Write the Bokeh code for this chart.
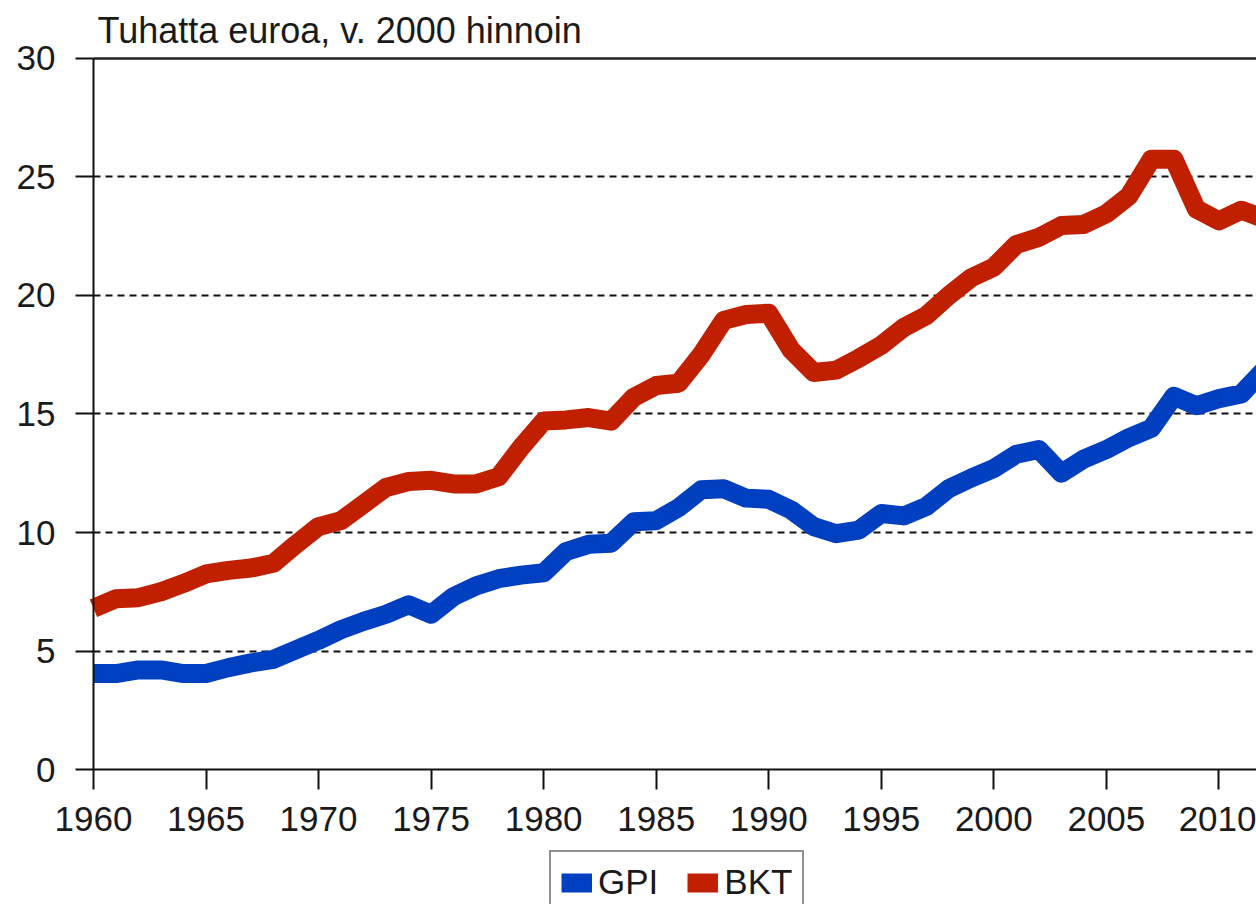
from bokeh.plotting import figure
from bokeh.models import (Range1d, FixedTicker, Legend, LegendItem, BoxAnnotation,
                          Grid, Label)
from bokeh.embed import file_html
from bokeh.resources import INLINE

# ---- data ----
years = list(range(1960, 2013))
gpi = [4.05, 4.05, 4.2, 4.2, 4.05, 4.05, 4.3, 4.5, 4.65, 5.05,
       5.45, 5.9, 6.25, 6.55, 6.95, 6.55, 7.3, 7.75, 8.05, 8.2,
       8.3, 9.2, 9.5, 9.55, 10.45, 10.5, 11.05, 11.8, 11.85, 11.45,
       11.4, 10.95, 10.25, 9.95, 10.1, 10.8, 10.7, 11.1, 11.85, 12.3,
       12.7, 13.3, 13.5, 12.5, 13.1, 13.5, 14.0, 14.4, 15.75, 15.35,
       15.65, 15.85, 16.85]
bkt = [6.8, 7.2, 7.25, 7.5, 7.85, 8.25, 8.4, 8.5, 8.7, 9.5,
       10.25, 10.5, 11.2, 11.9, 12.15, 12.2, 12.05, 12.05, 12.35, 13.6,
       14.7, 14.75, 14.85, 14.7, 15.7, 16.2, 16.3, 17.5, 18.95, 19.2,
       19.25, 17.7, 16.75, 16.85, 17.35, 17.9, 18.65, 19.15, 20.0, 20.75,
       21.2, 22.15, 22.45, 22.95, 23.0, 23.45, 24.2, 25.75, 25.75, 23.65,
       23.15, 23.6, 23.25]
y_ticks = [0, 5, 10, 15, 20, 25, 30]
grid_ticks = [5, 10, 15, 20, 25]
top_tick = [30]
x_ticks = [1960, 1965, 1970, 1975, 1980, 1985, 1990, 1995, 2000, 2005, 2010]
title_text = "Tuhatta euroa, v. 2000 hinnoin"
names = ["GPI", "BKT"]
colors = ["#0040c0", "#c02000"]

FONT = "Liberation Sans"
TXT = "#1a1a1a"
X0, X1 = 1960, 2011.67

# the frame covers the whole page; both axes are pinned at (1960, 0)
p = figure(width=1256, height=904, output_backend="svg", toolbar_location=None,
           title=None,
           x_range=Range1d(1955.87, X1), y_range=Range1d(-5.696, 32.447),
           min_border_left=0, min_border_top=0, min_border_bottom=0,
           min_border_right=0)
p.outline_line_color = None
p.background_fill_color = "white"
p.border_fill_color = "white"

has_cross = "cross_bounds" in Grid.properties()

# grid (dashed) and solid top line
p.xgrid.visible = False
p.ygrid.ticker = FixedTicker(ticks=grid_ticks)
p.ygrid.grid_line_color = "#111111"
p.ygrid.grid_line_width = 2
p.ygrid.grid_line_dash = "7 5"
top = Grid(dimension=1, ticker=FixedTicker(ticks=top_tick),
           grid_line_color="#222222", grid_line_width=2.5)
p.add_layout(top)
if has_cross:
    p.ygrid.cross_bounds = (X0, X1)
    top.cross_bounds = (X0, X1)
else:
    p.add_layout(BoxAnnotation(right=X0, fill_color="white", fill_alpha=1,
                               line_color=None, level="underlay"))

# title
p.add_layout(Label(x=97, y=874, x_units="screen", y_units="screen", text=title_text,
                   text_font=FONT, text_font_size="36px", text_color=TXT,
                   text_baseline="alphabetic"))

# series
r_b = p.line(years, bkt, line_width=19, line_color=colors[1], line_join="round")
r_g = p.line(years, gpi, line_width=19, line_color=colors[0], line_join="round")

# axes
for ax in (p.xaxis[0], p.yaxis[0]):
    ax.axis_line_color = "#111111"
    ax.axis_line_width = 2
    ax.major_tick_line_color = "#111111"
    ax.major_tick_line_width = 2
    ax.major_tick_in = 0
    ax.minor_tick_in = 0
    ax.minor_tick_out = 0
    ax.major_label_text_font = FONT
    ax.major_label_text_font_size = "35px"
    ax.major_label_text_color = TXT

p.yaxis.ticker = FixedTicker(ticks=y_ticks)
p.yaxis.fixed_location = X0
p.yaxis.bounds = (0, 30)
p.yaxis.major_tick_out = 18
p.yaxis.major_label_standoff = 20
p.xaxis.ticker = FixedTicker(ticks=x_ticks)
p.xaxis.fixed_location = 0
p.xaxis.bounds = (X0, X1)
p.xaxis.major_tick_out = 20
p.xaxis.major_label_standoff = 17

# legend
legend = Legend(items=[LegendItem(label=names[0], renderers=[r_g]),
                       LegendItem(label=names[1], renderers=[r_b])],
                orientation="horizontal", location=(549, -10),
                glyph_width=31, glyph_height=21, label_standoff=6, spacing=29,
                padding=10, margin=0, border_line_color="#222222", border_line_width=2,
                label_text_font=FONT, label_text_font_size="35px", label_text_color=TXT,
                title_text_font_size="1px", title_standoff=0,
                background_fill_color="white", background_fill_alpha=1)
p.add_layout(legend)

open("out.html", "w").write(file_html(p, INLINE))
